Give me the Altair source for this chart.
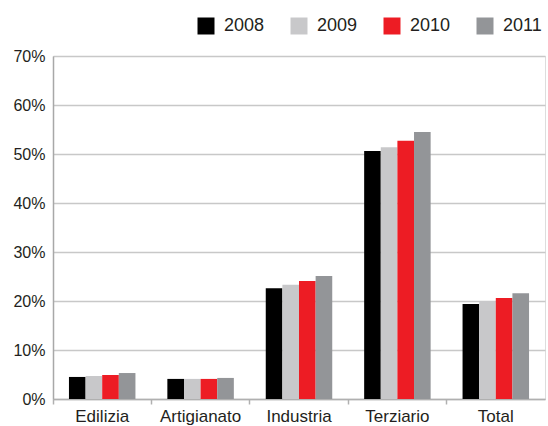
import altair as alt
import pandas as pd

categories = ["Edilizia", "Artigianato", "Industria", "Terziario", "Total"]
years = ["2008", "2009", "2010", "2011"]
colors = ["#000000", "#c8c8ca", "#ed1c24", "#939598"]
values = {
    "2008": [4.5, 4.1, 22.6, 50.6, 19.4],
    "2009": [4.7, 4.1, 23.3, 51.4, 20.0],
    "2010": [4.9, 4.1, 24.1, 52.7, 20.6],
    "2011": [5.3, 4.3, 25.1, 54.5, 21.6],
}
y_ticks = [0, 0.1, 0.2, 0.3, 0.4, 0.5, 0.6, 0.7]

rows = []
for y in years:
    for c, v in zip(categories, values[y]):
        rows.append({"cat": c, "year": y, "val": v / 100})
df = pd.DataFrame(rows)

FONT = "Liberation Sans"
TXT = "#231f20"

chart = alt.Chart(df).mark_bar().encode(
    x=alt.X("cat:N", sort=categories, title=None,
            scale=alt.Scale(paddingInner=0, paddingOuter=0),
            axis=alt.Axis(labelAngle=0, bandPosition=0,
                          labelFontSize=17, labelFont=FONT, labelColor=TXT,
                          labelPadding=4, ticks=True, tickSize=5,
                          tickColor="#b0b0b0", tickWidth=1.5,
                          domainColor="#b0b0b0", domainWidth=1.5, grid=False)),
    xOffset=alt.XOffset("year:N", sort=years,
                        scale=alt.Scale(paddingInner=0, paddingOuter=0.96)),
    y=alt.Y("val:Q", title=None,
            scale=alt.Scale(domain=[0, 0.7], nice=False),
            axis=alt.Axis(values=y_ticks, format=".0%", ticks=False,
                          labelFontSize=16, labelFont=FONT, labelColor=TXT,
                          labelPadding=8, domainColor="#a8a8a8", domainWidth=1.5,
                          gridColor="#c8c8c8", gridWidth=1.5)),
    color=alt.Color("year:N", sort=years,
                    scale=alt.Scale(domain=years, range=colors),
                    legend=alt.Legend(title=None, orient="none", direction="horizontal",
                                      legendX=144, legendY=-39,
                                      symbolType="square", symbolSize=289,
                                      symbolStrokeWidth=0, symbolOpacity=1,
                                      labelFontSize=18, labelFont=FONT, labelColor=TXT,
                                      labelOffset=9, columnPadding=25)),
).properties(
    width=492, height=343,
    autosize=alt.AutoSizeParams(type="none"),
    padding={"left": 53, "top": 56, "right": 3, "bottom": 27},
).configure_view(
    stroke="#c0c0c0", strokeWidth=1.5
).configure(background="white")

chart.save("out.html", embed_options={"renderer": "svg", "actions": False})
